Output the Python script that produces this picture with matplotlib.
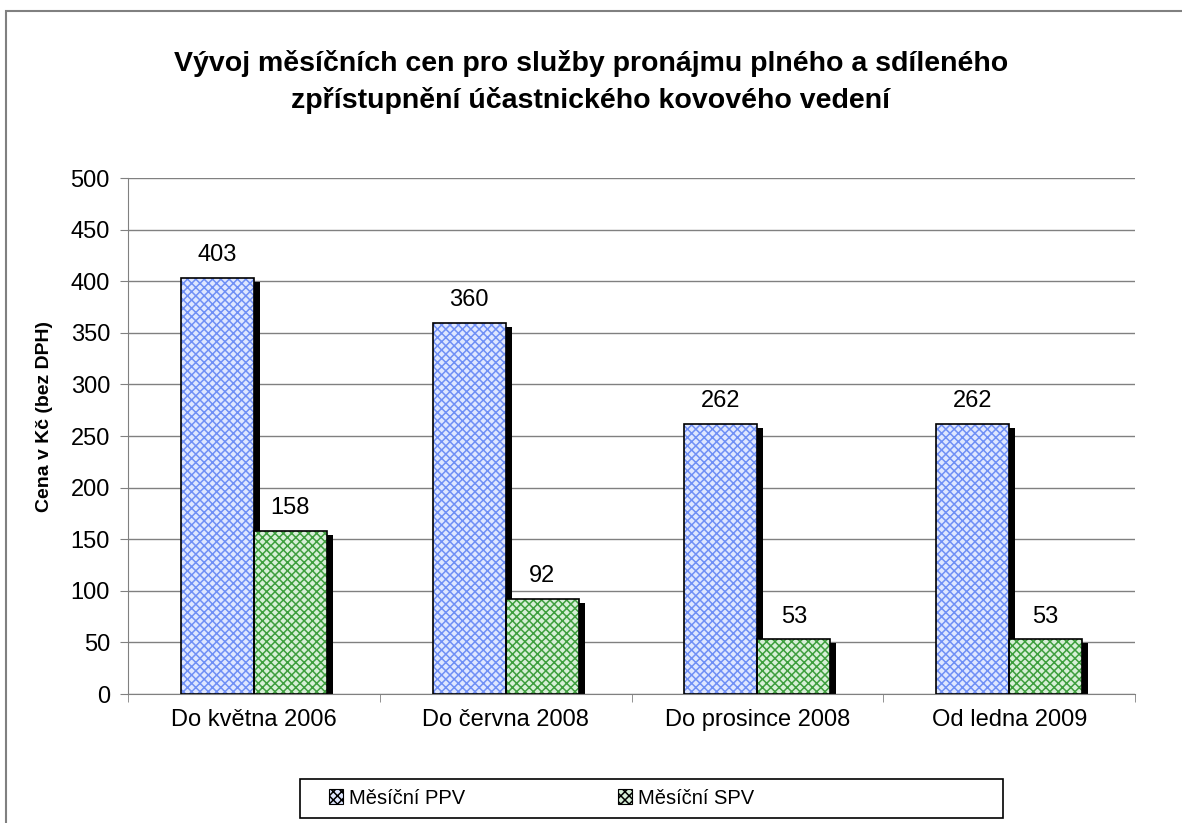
import matplotlib
matplotlib.use("Agg")
from matplotlib import pyplot as plt
from matplotlib.patches import Rectangle
import numpy as np

plt.rcParams['font.family'] = ['Liberation Sans', 'DejaVu Sans']
plt.rcParams['hatch.linewidth'] = 1.1

categories = ["Do května 2006", "Do června 2008", "Do prosince 2008", "Od ledna 2009"]
ppv = [403, 360, 262, 262]
spv = [158, 92, 53, 53]
series_names = ["Měsíční PPV", "Měsíční SPV"]
title = "Vývoj měsíčních cen pro služby pronájmu plného a sdíleného\nzpřístupnění účastnického kovového vedení"
ylabel = "Cena v Kč (bez DPH)"

fig = plt.figure(figsize=(11.82, 8.23), dpi=100)
ax = fig.add_axes([0.1083, 0.1567, 0.852, 0.627])

x = np.arange(len(categories))
w = 0.29
offsets = [-0.145, 0.145]
styles = [("#dfe7ff", "#6f8ff5"), ("#d8efd8", "#3e9e3e")]

# shadow offset: ~6px right, ~4px down
sx = 6 / 251.75
sy = 4 / 1.032

for vals, off, (fc, hc) in zip([ppv, spv], offsets, styles):
    pos = x + off
    vals = np.array(vals)
    ax.bar(pos + sx, vals - sy, w, color="black", zorder=2, linewidth=0)
    ax.bar(pos, vals, w, color=fc, edgecolor=hc, hatch="xxxx", linewidth=0, zorder=3)
    ax.bar(pos, vals, w, fill=False, edgecolor="black", linewidth=1.2, zorder=4)
    for p, v in zip(pos, vals):
        ax.annotate(str(v), (p, v), xytext=(0, 12), textcoords="offset points",
                    ha="center", va="baseline", fontsize=17)

ax.set_xlim(-0.5, len(categories) - 0.5)
ax.set_ylim(0, 500)
ax.set_yticks(np.arange(0, 501, 50))
ax.yaxis.grid(True, color="#808080", linewidth=1)
ax.set_axisbelow(True)
ax.set_xticks(x)
ax.set_xticklabels(categories, fontsize=17)
ax.set_xticks(np.arange(-0.5, len(categories), 1), minor=True)
ax.tick_params(axis="x", which="major", length=0, pad=11)
ax.tick_params(axis="x", which="minor", length=6, color="#808080")
ax.tick_params(axis="y", length=6, color="#808080", labelsize=17, pad=7)
for s in ["top", "right"]:
    ax.spines[s].set_visible(False)
for s in ["left", "bottom"]:
    ax.spines[s].set_color("#808080")
ax.set_ylabel(ylabel, fontsize=14, fontweight="bold")
ax.yaxis.set_label_coords(-0.0745, 0.537)

fig.text(0.5, 0.9005, title, ha="center", va="center", fontsize=20.5,
         fontweight="bold", linespacing=1.5)

# legend
handles = [Rectangle((0, 0), 1, 1, facecolor=fc, edgecolor="black", hatch="xxxx", linewidth=0.8)
           for fc, hc in styles]
leg = fig.legend(handles, series_names, loc="center", bbox_to_anchor=(0.458, 0.0303),
                 ncol=2, frameon=False, fontsize=14.5, handlelength=0.7, handleheight=0.7,
                 handletextpad=0.3, columnspacing=7.6)
fig.add_artist(Rectangle((300 / 1182, 5 / 823), 703 / 1182, 39 / 823,
                         transform=fig.transFigure, fill=False, edgecolor="black", linewidth=1.2))

# outer chart frame (left and top edges visible)
fig.add_artist(Rectangle((6 / 1182, -0.1), 1.2, 1.1 - 11 / 823,
                         transform=fig.transFigure, fill=False, edgecolor="#808080", linewidth=1.5))

fig.savefig("out.png", dpi=100)
